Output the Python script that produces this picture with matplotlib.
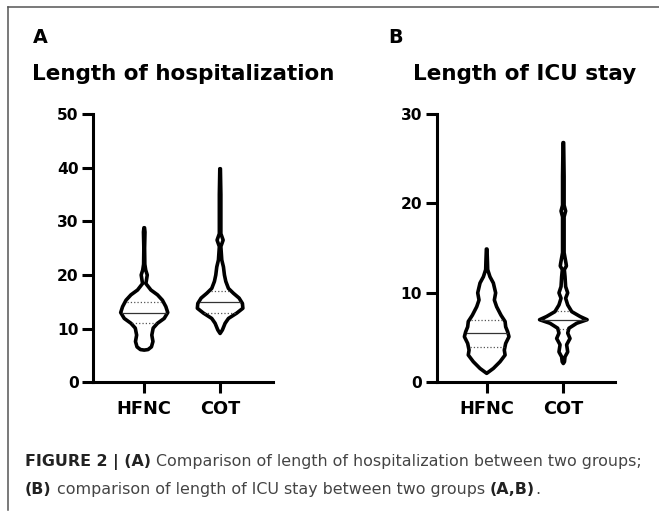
import numpy as np
import matplotlib
matplotlib.use('Agg')
import matplotlib.pyplot as plt
from matplotlib.lines import Line2D

plt.rcParams['font.family'] = ['DejaVu Sans']

groups = ['HFNC', 'COT']

# violin outlines: value levels and half-widths (in category units)
a_hfnc_y = [28.8, 28.0, 25.0, 22.0, 20.9, 20.0, 18.4, 17.2, 16.3, 15.3, 14.1, 13.0, 11.9, 11.0, 10.1, 8.8, 7.6, 6.6, 6.1, 6.0]
a_hfnc_w = [0.004, 0.01, 0.005, 0.008, 0.02, 0.04, 0.022, 0.088, 0.175, 0.24, 0.285, 0.31, 0.263, 0.175, 0.118, 0.10, 0.115, 0.095, 0.05, 0.0]
a_cot_y = [39.8, 35.0, 29.0, 27.7, 26.5, 25.3, 22.8, 21.5, 20.0, 18.8, 17.5, 16.6, 15.7, 14.7, 13.8, 12.9, 11.9, 11.0, 9.75, 9.1]
a_cot_w = [0.004, 0.01, 0.01, 0.01, 0.04, 0.01, 0.022, 0.044, 0.057, 0.075, 0.11, 0.175, 0.25, 0.294, 0.30, 0.22, 0.11, 0.066, 0.03, 0.0]
b_hfnc_y = [14.9, 13.5, 12.6, 11.8, 11.1, 10.0, 9.2, 8.45, 7.5, 6.8, 6.2, 5.65, 5.1, 4.35, 3.6, 3.05, 2.3, 1.55, 1.0]
b_hfnc_w = [0.004, 0.01, 0.013, 0.043, 0.087, 0.117, 0.10, 0.13, 0.187, 0.24, 0.248, 0.274, 0.291, 0.248, 0.23, 0.24, 0.174, 0.087, 0.0]
b_cot_y = [26.8, 23.0, 19.8, 19.15, 18.5, 14.5, 13.3, 13.0, 12.6, 11.8, 10.7, 10.0, 9.4, 8.65, 7.9, 7.35, 7.0, 6.6, 6.05, 5.5, 4.9, 4.2, 3.4, 2.85, 2.3, 2.1]
b_cot_w = [0.004, 0.01, 0.01, 0.03, 0.01, 0.01, 0.035, 0.04, 0.013, 0.022, 0.03, 0.057, 0.03, 0.057, 0.11, 0.22, 0.31, 0.174, 0.074, 0.057, 0.087, 0.043, 0.057, 0.022, 0.015, 0.0]

# median, lower quartile, upper quartile
a_stats = [(13, 11, 15), (15, 13, 17)]
b_stats = [(5.5, 4, 7), (7, 6, 8)]

fig = plt.figure(figsize=(6.59, 5.13), dpi=100)
W, H = 659, 513


def draw_violin(ax, pos, ys, ws, stats):
    ys = np.array(ys)
    ws = np.array(ws)
    xs = np.concatenate([pos - ws, (pos + ws)[::-1]])
    yy = np.concatenate([ys, ys[::-1]])
    ax.fill(xs, yy, facecolor='white', edgecolor='black', lw=2.6,
            joinstyle='round', capstyle='round', zorder=3)
    order = np.argsort(ys)
    med, q1, q3 = stats
    for v, ls, c in [(med, '-', '#333333'), (q1, ':', '#555555'), (q3, ':', '#555555')]:
        hw = np.interp(v, ys[order], ws[order]) - 0.02
        if hw > 0:
            ax.plot([pos - hw, pos + hw], [v, v], ls=ls, color=c, lw=0.9, zorder=4)


def setup_axes(rect, xlim, ymax, step):
    ax = fig.add_axes(rect)
    ax.set_xlim(*xlim)
    ax.set_ylim(0, ymax)
    for s in ['top', 'right']:
        ax.spines[s].set_visible(False)
    for s in ['left', 'bottom']:
        ax.spines[s].set_linewidth(2.2)
        ax.spines[s].set_capstyle('projecting')
    ax.set_xticks([0, 1])
    ax.set_xticklabels(groups, fontsize=12.8, fontweight='bold')
    ax.set_yticks(np.arange(0, ymax + 1, step))
    ax.tick_params(axis='both', width=2.2, length=8)
    ax.tick_params(axis='y', pad=2.5, labelsize=11.2)
    ax.tick_params(axis='x', pad=5)
    for lab in ax.get_yticklabels():
        lab.set_fontweight('bold')
    return ax


axA = setup_axes([93.3 / W, 1 - 382.3 / H, (273 - 93.3) / W, (382.3 - 114) / H], (-0.671, 1.697), 50, 10)
draw_violin(axA, 0, a_hfnc_y, a_hfnc_w, a_stats[0])
draw_violin(axA, 1, a_cot_y, a_cot_w, a_stats[1])

axB = setup_axes([436.7 / W, 1 - 382.3 / H, (615 - 436.7) / W, (382.3 - 114) / H], (-0.652, 1.674), 30, 10)
draw_violin(axB, 0, b_hfnc_y, b_hfnc_w, b_stats[0])
draw_violin(axB, 1, b_cot_y, b_cot_w, b_stats[1])

# panel letters and titles
fig.text(33 / W, 1 - 43 / H, 'A', fontsize=13.8, fontweight='bold', va='baseline')
fig.text(388 / W, 1 - 43 / H, 'B', fontsize=13.8, fontweight='bold', va='baseline')
fig.text(32 / W, 1 - 80 / H, 'Length of hospitalization', fontsize=15.5, fontweight='bold', va='baseline')
fig.text(412.7 / W, 1 - 80 / H, 'Length of ICU stay', fontsize=15.5, fontweight='bold', va='baseline')

# frame
fig.add_artist(Line2D([7.5 / W, 1], [1 - 6.5 / H] * 2, transform=fig.transFigure, color='#555555', lw=1.1))
fig.add_artist(Line2D([7.5 / W] * 2, [1 - 6.5 / H, 1 - 510 / H], transform=fig.transFigure, color='#555555', lw=1.1))

# caption with mixed bold/regular pieces
caption = [
    [('FIGURE 2 | (A)', 'bold'), (' Comparison of length of hospitalization between two groups;', 'normal')],
    [('(B)', 'bold'), (' comparison of length of ICU stay between two groups ', 'normal'), ('(A,B)', 'bold'), ('.', 'normal')],
]
renderer = fig.canvas.get_renderer()
for i, line in enumerate(caption):
    x = 25
    y = 1 - (466 + 28 * i) / H
    for txt, wt in line:
        t = fig.text(x / W, y, txt, fontsize=11.4, fontweight=wt, va='baseline',
                     color='#222222' if wt == 'bold' else '#444444')
        x += t.get_window_extent(renderer).width

fig.savefig('out.png', dpi=100)
